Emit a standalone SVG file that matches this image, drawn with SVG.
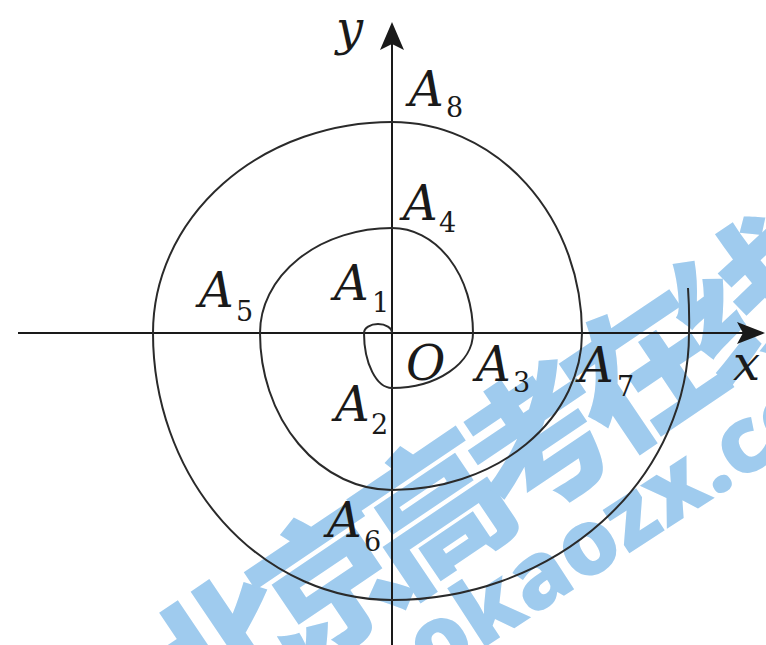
<svg xmlns="http://www.w3.org/2000/svg" width="766" height="645" viewBox="0 0 766 645">
<style>
.ax{stroke:#1a1a1a;stroke-width:2;fill:none}
.sp{stroke:#2a2a2a;stroke-width:2;fill:none}
.ah{fill:#1a1a1a}
</style>
<g id="watermark" fill="#9fcbee" font-weight="900">
<text font-family="Noto Sans CJK SC, Noto Sans, sans-serif" font-size="148" letter-spacing="-22" text-anchor="middle" dominant-baseline="central" transform="translate(472,474) rotate(-34)">北京高考在线</text>
<text font-family="Noto Sans, Open Sans, sans-serif" font-size="92" text-anchor="middle" dominant-baseline="central" transform="translate(600,530) rotate(-33)">gaokaozx.com</text>
</g>
<g id="axes">
<line class="ax" x1="18" y1="333" x2="748" y2="333"/>
<line class="ax" x1="392" y1="645" x2="392" y2="40"/>
<path class="ah" d="M765,333 L737,322 L743,333 L737,344 Z"/>
<path class="ah" d="M392,22 L380,50 L392,44 L404,50 Z"/>
</g>
<g id="spiral">
<path class="sp" d="M392,333 A14 9 0 0 0 364,333 A28 55 0 0 0 392,388 A81 55 0 0 0 473,333 A81 105 0 0 0 392,228 A132 105 0 0 0 260,333 A132 157 0 0 0 392,490 A190 157 0 0 0 582,333 A190 211 0 0 0 392,122 A239 211 0 0 0 153,333 A239 267 0 0 0 392,600 A297 267 0 0 0 689,333 C689.5,318 689,303 688,288"/>
</g>
<g id="labels" fill="#1a1a1a" font-family="DejaVu Serif, Liberation Serif, serif">
<g font-style="italic" font-size="48">
<text x="334" y="300">A</text>
<text x="335" y="421">A</text>
<text x="476" y="381">A</text>
<text x="403" y="220">A</text>
<text x="199" y="307">A</text>
<text x="327" y="537">A</text>
<text x="579" y="382">A</text>
<text x="409" y="106">A</text>
<text x="406" y="380">O</text>
<text x="733" y="380">x</text>
<text x="336" y="45">y</text>
</g>
<g font-size="27">
<text x="372" y="312">1</text>
<text x="371" y="434">2</text>
<text x="513" y="392">3</text>
<text x="439" y="232">4</text>
<text x="236" y="321">5</text>
<text x="364" y="551">6</text>
<text x="617" y="396">7</text>
<text x="446" y="117">8</text>
</g>
</g>
</svg>
